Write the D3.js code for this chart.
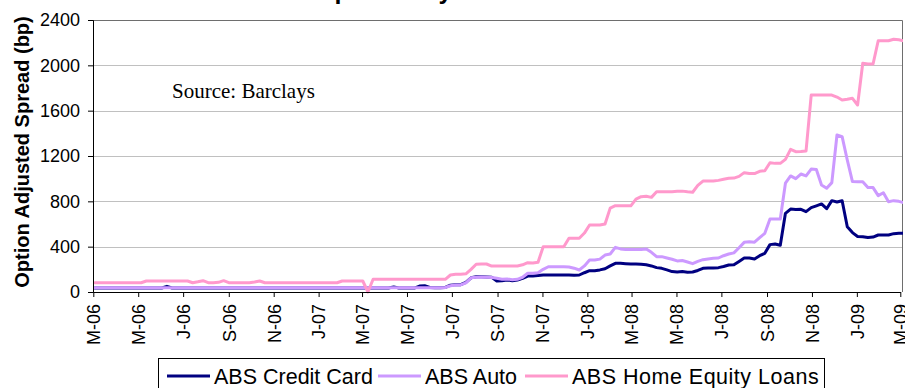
<!DOCTYPE html>
<html>
<head>
<meta charset="utf-8">
<script src="https://cdn.jsdelivr.net/npm/d3@7/dist/d3.min.js"></script>
<style>
  body { margin: 0; background: #fff; }
  svg { display: block; }
</style>
</head>
<body>
<svg id="chart" width="905" height="388"></svg>
<script>
// Weekly option-adjusted spreads (bp), one value per week starting at firstWeek
const firstWeek = "2006-03-03";
const seriesNames = ["ABS Credit Card", "ABS Auto", "ABS Home Equity Loans"];
const seriesColors = ["#000080", "#CC99FF", "#FF99CC"];

const creditCard = [
  35,35,35,35,35,35,35,35,35,35,
  35,35,35,35,50,35,35,35,35,35,
  35,35,35,35,35,35,35,35,35,35,
  35,35,35,35,35,35,35,35,35,35,
  35,35,35,35,35,35,35,35,35,35,
  35,35,35,35,35,35,35,35,45,35,
  35,35,35,52,55,40,38,38,40,60,
  65,65,85,125,135,135,132,130,97,100,
  106,100,106,120,141,141,145,150,150,150,
  150,150,150,148,150,170,188,188,195,205,
  230,253,253,250,247,247,245,240,230,215,
  209,195,180,176,180,175,176,190,209,212,
  212,215,225,238,240,270,300,300,292,320,
  341,418,424,412,694,732,727,730,709,744,
  760,777,735,806,794,805,575,524,490,488,
  480,485,503,503,503,515,518,518
];

const auto = [
  38,38,38,38,38,38,38,38,38,38,
  38,38,38,38,38,38,38,38,38,38,
  38,38,38,38,38,38,38,38,38,38,
  38,38,38,38,38,38,38,38,38,38,
  38,38,38,38,38,38,38,38,38,38,
  38,38,38,38,38,38,38,38,38,38,
  38,38,38,38,38,38,38,38,40,55,
  62,62,80,125,130,132,130,128,121,112,
  115,108,112,130,165,165,170,200,223,223,
  223,223,220,210,194,230,282,282,290,326,
  335,394,380,376,376,376,376,380,350,312,
  312,300,289,274,278,265,250,270,285,292,
  297,300,320,335,345,390,438,444,440,480,
  518,644,644,644,960,1024,1000,1041,1024,1085,
  1080,944,915,965,1385,1371,1165,974,973,972,
  921,921,850,876,797,806,800,788
];

const homeEquity = [
  82,82,82,82,82,82,82,82,82,82,
  97,97,97,97,97,97,97,97,97,82,
  90,100,82,82,85,100,82,82,82,82,
  82,88,97,82,82,82,82,82,82,82,
  82,82,82,82,82,82,82,82,97,97,
  97,97,97,0,112,112,112,112,112,112,
  112,112,112,112,112,112,112,112,112,150,
  156,156,160,200,245,247,247,229,229,229,
  229,229,229,240,259,255,262,400,400,400,
  400,400,474,474,474,520,591,591,591,600,
  740,762,762,760,760,820,841,845,835,885,
  885,885,885,888,890,884,880,940,979,979,
  979,985,995,1003,1005,1020,1053,1045,1045,1065,
  1070,1140,1135,1135,1170,1259,1238,1240,1245,1738,
  1738,1738,1738,1738,1720,1694,1700,1709,1650,2018,
  2012,2012,2217,2217,2217,2230,2225,2215
];

const tickMonths = [
  "2006-03","2006-05","2006-07","2006-09","2006-11",
  "2007-01","2007-03","2007-05","2007-07","2007-09","2007-11",
  "2008-01","2008-03","2008-05","2008-07","2008-09","2008-11",
  "2009-01","2009-03"
];
const tickLabels = [
  "M-06","M-06","J-06","S-06","N-06",
  "J-07","M-07","M-07","J-07","S-07","N-07",
  "J-08","M-08","M-08","J-08","S-08","N-08",
  "J-09","M-09"
];
const yTicks = [0, 400, 800, 1200, 1600, 2000, 2400];

const titleText = "ABS Spreads by Sector";
const sourceText = "Source: Barclays";
const yTitle = "Option Adjusted Spread (bp)";

// ---- layout ----
const plot = { left: 93, right: 903, top: 20, bottom: 292 };
const sans = "'Liberation Sans', Arial, sans-serif";
const serif = "'Liberation Serif', 'Times New Roman', serif";

const parseDay = d3.utcParse("%Y-%m-%d");
const parseMonth = d3.utcParse("%Y-%m");
const start = parseDay(firstWeek);
const weekDate = i => d3.utcDay.offset(start, 7 * i);

const x = d3.scaleUtc()
  .domain([parseMonth("2006-03"), parseMonth("2009-03")])
  .range([93.3, 900.3]);
const y = d3.scaleLinear().domain([0, 2400]).range([plot.bottom, plot.top]);

const svg = d3.select("#chart");

// clip for series lines
svg.append("defs").append("clipPath").attr("id", "plotClip")
  .append("rect")
  .attr("x", plot.left).attr("y", plot.top - 4)
  .attr("width", plot.right - plot.left).attr("height", plot.bottom - plot.top + 6);

// chart title (sits at the very top edge)
svg.append("text")
  .attr("x", 258).attr("y", -1)
  .attr("font-family", sans).attr("font-size", 25).attr("font-weight", "bold")
  .attr("fill", "#000")
  .text(titleText);

// gridlines
svg.append("g").selectAll("line")
  .data(yTicks.filter(v => v > 0 && v < 2400))
  .join("line")
  .attr("x1", plot.left).attr("x2", plot.right)
  .attr("y1", d => Math.round(y(d)) + 0.5).attr("y2", d => Math.round(y(d)) + 0.5)
  .attr("stroke", "#c0c0c0").attr("stroke-width", 1);

// plot-area frame (top and right)
svg.append("path")
  .attr("d", `M${plot.left},${plot.top + 0.5}H${plot.right - 0.5}V${plot.bottom}`)
  .attr("fill", "none").attr("stroke", "#6e6e6e").attr("stroke-width", 1);

// series lines
const series = [creditCard, auto, homeEquity];
const line = d3.line()
  .x((d, i) => x(weekDate(i)))
  .y(d => y(d));

svg.append("g").attr("clip-path", "url(#plotClip)")
  .selectAll("path")
  .data(series)
  .join("path")
  .attr("d", d => line(d))
  .attr("fill", "none")
  .attr("stroke", (d, i) => seriesColors[i])
  .attr("stroke-width", 3)
  .attr("stroke-linejoin", "round")
  .attr("stroke-linecap", "round");

// y axis
const yAxis = svg.append("g")
  .attr("transform", `translate(${plot.left},0)`)
  .call(d3.axisLeft(y).tickValues(yTicks).tickSize(5).tickPadding(8).tickFormat(d3.format("d")));
yAxis.select(".domain").attr("stroke", "#000");
yAxis.selectAll(".tick line").attr("stroke", "#000");
yAxis.selectAll("text")
  .attr("font-family", sans).attr("font-size", 18).attr("fill", "#000");

// x axis
const xTickDates = tickMonths.map(parseMonth);
const xAxis = svg.append("g")
  .attr("transform", `translate(0,${plot.bottom})`)
  .call(d3.axisBottom(x).tickValues(xTickDates).tickSize(5).tickSizeOuter(0)
    .tickFormat((d, i) => tickLabels[i]));
xAxis.select(".domain").attr("stroke", "#000");
xAxis.selectAll(".tick line").attr("stroke", "#000");
xAxis.selectAll("text")
  .attr("font-family", sans).attr("font-size", 18).attr("fill", "#000")
  .attr("text-anchor", "end")
  .attr("transform", "rotate(-90)")
  .attr("x", -12).attr("y", 0).attr("dy", "0.35em");

// y axis title
svg.append("text")
  .attr("transform", "translate(29,152) rotate(-90)")
  .attr("text-anchor", "middle")
  .attr("font-family", sans).attr("font-size", 20).attr("font-weight", "bold")
  .attr("fill", "#000")
  .text(yTitle);

// source note
svg.append("text")
  .attr("x", 172).attr("y", 98)
  .attr("font-family", serif).attr("font-size", 21)
  .attr("fill", "#000")
  .text(sourceText);

// legend
const legend = svg.append("g");
legend.append("rect")
  .attr("x", 158.5).attr("y", 358.5).attr("width", 666).attr("height", 40)
  .attr("fill", "#fff").attr("stroke", "#000").attr("stroke-width", 1);
const legendX = [167, 378, 525];
const legendSpacing = [0, 0, 0.5];
seriesNames.forEach((name, i) => {
  const g = legend.append("g").attr("transform", `translate(${legendX[i]},376)`);
  g.append("line").attr("x1", 0).attr("x2", 43).attr("y1", 0).attr("y2", 0)
    .attr("stroke", seriesColors[i]).attr("stroke-width", 3);
  g.append("text").attr("x", 47).attr("y", 0).attr("dy", "0.36em")
    .attr("font-family", sans).attr("font-size", 21.5).attr("fill", "#000")
    .attr("letter-spacing", legendSpacing[i])
    .text(name);
});
</script>
</body>
</html>
